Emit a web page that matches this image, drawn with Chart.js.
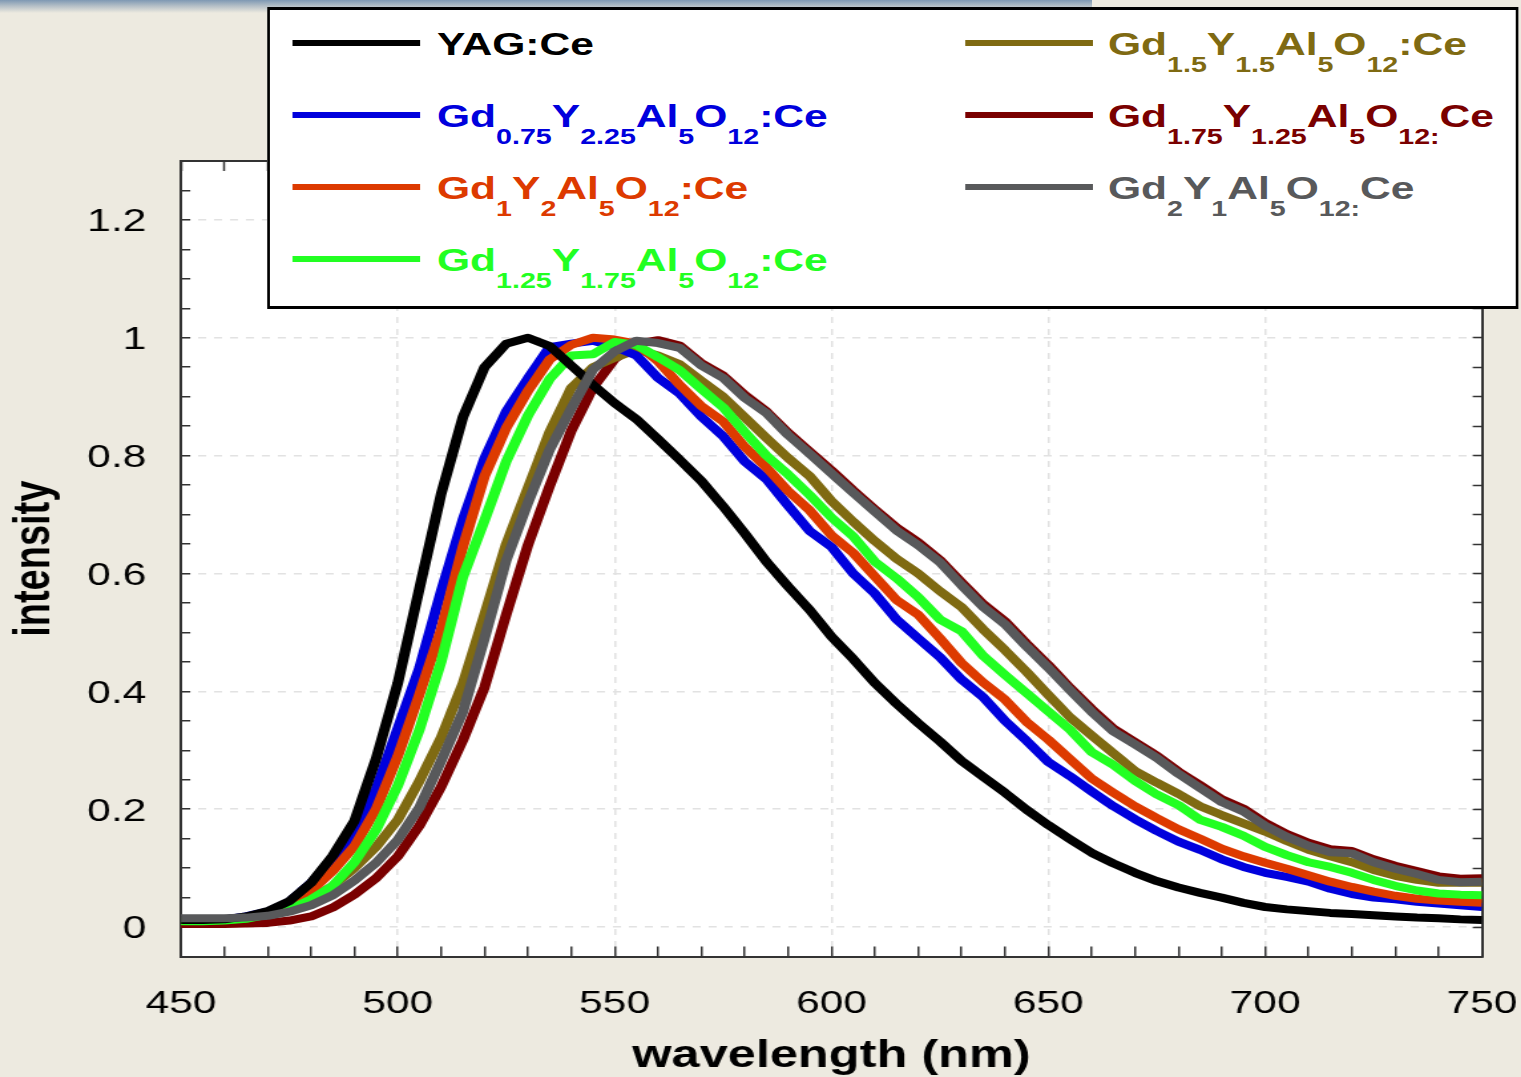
<!DOCTYPE html>
<html>
<head>
<meta charset="utf-8">
<title>Emission spectra</title>
<script src="https://cdn.jsdelivr.net/npm/chart.js@4.4.1/dist/chart.umd.min.js"></script>
<style>
  html, body { margin: 0; padding: 0; }
  body {
    width: 1521px; height: 1077px; overflow: hidden; position: relative;
    background: #edeae0;
    font-family: 'Liberation Sans', Arial, sans-serif;
  }
  #topband {
    position: absolute; left: 0; top: 0; width: 1092px; height: 13px;
    background: linear-gradient(#7e98b3, #b3bec6 45%, #edeae0);
  }
  /* the original picture is stretched ~1.33x horizontally */
  #stage {
    position: absolute; left: 0; top: 0; width: 1144px; height: 1077px;
    transform: scaleX(1.3296); transform-origin: 0 0;
  }
  #stage canvas { position: absolute; left: 0; top: 0; }
  #legendBox {
    position: absolute; left: 200.8px; top: 7px; width: 941.6px; height: 302px;
    box-sizing: border-box; background: #fff;
    border: 3px solid #000; border-left-width: 2.3px; border-right-width: 2.3px;
  }
  .lg-line { position: absolute; height: 6px; }
  .lg-text {
    position: absolute; font-weight: bold; font-size: 32px; line-height: 1;
    white-space: nowrap;
  }
  .lg-text .sub { font-size: 21.5px; position: relative; top: 17px; }
</style>
</head>
<body>
<div id="topband"></div>
<div id="stage">
  <canvas id="spectra" width="1144" height="1077"></canvas>
  <div id="legendBox"></div>
</div>

<script>
// ── datos ────────────────────────────────────────────────────────────────
const wavelengths = [450, 455, 460, 465, 470, 475, 480, 485, 490, 495,
                     500, 505, 510, 515, 520, 525, 530, 535, 540, 545,
                     550, 555, 560, 565, 570, 575, 580, 585, 590, 595,
                     600, 605, 610, 615, 620, 625, 630, 635, 640, 645,
                     650, 655, 660, 665, 670, 675, 680, 685, 690, 695,
                     700, 705, 710, 715, 720, 725, 730, 735, 740, 745, 750];

const yagCe = [0.012, 0.012, 0.013, 0.018, 0.027, 0.044, 0.075, 0.121, 0.18, 0.286,
               0.414, 0.575, 0.735, 0.865, 0.95, 0.99, 1.0, 0.986, 0.953, 0.92,
               0.889, 0.862, 0.828, 0.793, 0.757, 0.714, 0.668, 0.62, 0.578, 0.538,
               0.493, 0.455, 0.414, 0.379, 0.346, 0.315, 0.282, 0.255, 0.228, 0.199,
               0.173, 0.149, 0.126, 0.108, 0.092, 0.078, 0.067, 0.058, 0.05, 0.041,
               0.034, 0.03, 0.027, 0.024, 0.022, 0.02, 0.018, 0.016, 0.015, 0.013, 0.012];

const gd075 = [0.012, 0.012, 0.013, 0.018, 0.026, 0.043, 0.075, 0.113, 0.16, 0.234,
               0.337, 0.44, 0.57, 0.691, 0.795, 0.875, 0.931, 0.984, 0.99, 0.995,
               0.985, 0.97, 0.932, 0.905, 0.866, 0.833, 0.79, 0.76, 0.715, 0.672,
               0.645, 0.6, 0.566, 0.522, 0.49, 0.458, 0.42, 0.39, 0.35, 0.316,
               0.28, 0.256, 0.23, 0.205, 0.183, 0.163, 0.145, 0.131, 0.115, 0.102,
               0.092, 0.085, 0.077, 0.065, 0.056, 0.05, 0.047, 0.043, 0.04, 0.037, 0.034];

const gd1 = [0.011, 0.011, 0.012, 0.016, 0.022, 0.037, 0.061, 0.095, 0.137, 0.2,
             0.29, 0.395, 0.505, 0.645, 0.765, 0.847, 0.91, 0.963, 0.988, 1.0,
             0.997, 0.99, 0.96, 0.92, 0.884, 0.858, 0.815, 0.78, 0.74, 0.707,
             0.665, 0.635, 0.595, 0.555, 0.53, 0.49, 0.448, 0.415, 0.386, 0.348,
             0.318, 0.285, 0.252, 0.228, 0.205, 0.185, 0.166, 0.15, 0.133, 0.12,
             0.109, 0.099, 0.088, 0.077, 0.068, 0.06, 0.053, 0.048, 0.045, 0.043, 0.041];

const gd125 = [0.01, 0.01, 0.011, 0.014, 0.021, 0.03, 0.047, 0.07, 0.11, 0.165,
               0.24, 0.335, 0.45, 0.594, 0.69, 0.79, 0.868, 0.93, 0.97, 0.972,
               0.993, 0.988, 0.967, 0.945, 0.913, 0.882, 0.84, 0.8, 0.768, 0.733,
               0.695, 0.663, 0.62, 0.592, 0.56, 0.522, 0.502, 0.46, 0.428, 0.397,
               0.366, 0.335, 0.297, 0.275, 0.248, 0.225, 0.207, 0.182, 0.17, 0.155,
               0.136, 0.122, 0.11, 0.102, 0.092, 0.08, 0.07, 0.062, 0.057, 0.055, 0.054];

const gd15 = [0.012, 0.012, 0.013, 0.015, 0.022, 0.033, 0.047, 0.07, 0.1, 0.136,
              0.182, 0.248, 0.322, 0.413, 0.53, 0.65, 0.745, 0.84, 0.915, 0.95,
              0.966, 0.98, 0.97, 0.955, 0.927, 0.9, 0.865, 0.83, 0.796, 0.765,
              0.723, 0.688, 0.655, 0.625, 0.6, 0.57, 0.543, 0.505, 0.47, 0.433,
              0.394, 0.356, 0.325, 0.295, 0.265, 0.245, 0.226, 0.205, 0.19, 0.176,
              0.162, 0.146, 0.131, 0.12, 0.11, 0.097, 0.087, 0.08, 0.075, 0.075, 0.075];

const gd175 = [0.005, 0.005, 0.005, 0.006, 0.007, 0.011, 0.018, 0.033, 0.055, 0.083,
               0.12, 0.172, 0.238, 0.317, 0.407, 0.53, 0.648, 0.748, 0.842, 0.915,
               0.964, 0.99, 0.996, 0.987, 0.957, 0.936, 0.903, 0.875, 0.839, 0.807,
               0.775, 0.741, 0.709, 0.678, 0.653, 0.623, 0.585, 0.548, 0.519, 0.481,
               0.445, 0.406, 0.37, 0.337, 0.314, 0.291, 0.264, 0.241, 0.217, 0.201,
               0.177, 0.158, 0.143, 0.132, 0.129, 0.115, 0.104, 0.095, 0.086, 0.082, 0.083];

const gd2 = [0.015, 0.015, 0.015, 0.016, 0.019, 0.026, 0.037, 0.054, 0.079, 0.109,
             0.148, 0.203, 0.282, 0.365, 0.49, 0.622, 0.72, 0.81, 0.88, 0.946,
             0.977, 0.995, 0.991, 0.983, 0.953, 0.932, 0.898, 0.872, 0.835, 0.803,
             0.77, 0.737, 0.705, 0.673, 0.648, 0.619, 0.58, 0.543, 0.514, 0.476,
             0.44, 0.402, 0.365, 0.332, 0.31, 0.287, 0.26, 0.236, 0.212, 0.196,
             0.172, 0.153, 0.138, 0.127, 0.125, 0.11, 0.099, 0.09, 0.08, 0.076, 0.077];

// nombres con subíndices marcados como _{...}
const seriesLabels = ['YAG:Ce',
                      'Gd_{0.75}Y_{2.25}Al_{5}O_{12}:Ce',
                      'Gd_{1}Y_{2}Al_{5}O_{12}:Ce',
                      'Gd_{1.25}Y_{1.75}Al_{5}O_{12}:Ce',
                      'Gd_{1.5}Y_{1.5}Al_{5}O_{12}:Ce',
                      'Gd_{1.75}Y_{1.25}Al_{5}O_{12:}Ce',
                      'Gd_{2}Y_{1}Al_{5}O_{12:}Ce'];
const seriesValues = [yagCe, gd075, gd1, gd125, gd15, gd175, gd2];
const seriesColors = ['#000000', '#0000dd', '#dd3a00', '#22ff22', '#7f6a12', '#7a0000', '#58595b'];
const drawOrder    = [1, 4, 3, 2, 5, 6, 0];   // menor = encima

// ticks
const xTickValues = [450, 460, 470, 480, 490, 500, 510, 520, 530, 540, 550, 560, 570, 580, 590, 600,
                     610, 620, 630, 640, 650, 660, 670, 680, 690, 700, 710, 720, 730, 740, 750];
const xMajorValues = [450, 500, 550, 600, 650, 700, 750];
const xMajorLabels = ['450', '500', '550', '600', '650', '700', '750'];
const yTickValues = [0, 0.05, 0.1, 0.15, 0.2, 0.25, 0.3, 0.35, 0.4, 0.45, 0.5, 0.55, 0.6, 0.65,
                     0.7, 0.75, 0.8, 0.85, 0.9, 0.95, 1, 1.05, 1.1, 1.15, 1.2, 1.25, 1.3];
const yMajorValues = [0, 0.2, 0.4, 0.6, 0.8, 1, 1.2];
const yMajorLabels = ['0', '0.2', '0.4', '0.6', '0.8', '1', '1.2'];

// ── helpers ──────────────────────────────────────────────────────────────
function majorIndex(list, v) {
    for (var i = 0; i < list.length; i++) {
        if (Math.abs(list[i] - v) < 1e-6) return i;
    }
    return -1;
}
function labelFor(values, labels) {
    return function (v) {
        var i = majorIndex(values, v);
        return i >= 0 ? labels[i] : '';
    };
}
function gridFor(values, skipEdges) {
    return function (c) {
        if (!c.tick) return 'transparent';
        var i = majorIndex(values, c.tick.value);
        if (i < 0) return 'transparent';
        if (skipEdges && (i === 0 || i === values.length - 1)) return 'transparent';
        return '#e2e2e2';
    };
}
function toHtml(s) { return s.replace(/_\{([^}]*)\}/g, '<span class="sub">$1</span>'); }
function toPlain(s) { return s.replace(/_\{([^}]*)\}/g, '$1'); }

var FONT = "'Liberation Sans', Arial, sans-serif";
var INK = '#333333';
Chart.defaults.font.family = FONT;
Chart.defaults.color = '#000';

// fondo blanco del área de trazado
const plotBackground = {
    id: 'plotBackground',
    beforeDraw: function (chart) {
        var a = chart.chartArea, ctx = chart.ctx;
        ctx.save();
        ctx.fillStyle = '#ffffff';
        ctx.fillRect(a.left, a.top, a.right - a.left, a.bottom - a.top);
        ctx.restore();
    }
};

var datasets = seriesValues.map(function (vals, k) {
    return {
        label: toPlain(seriesLabels[k]),
        data: wavelengths.map(function (w, i) { return { x: w, y: vals[i] }; }),
        borderColor: seriesColors[k],
        backgroundColor: seriesColors[k],
        borderWidth: 8,
        borderJoinStyle: 'round',
        pointRadius: 0,
        fill: false,
        tension: 0,
        order: drawOrder[k]
    };
});

function setXTicks(s) { s.ticks = xTickValues.map(function (v) { return { value: v }; }); }
function setYTicks(s) { s.ticks = yTickValues.map(function (v) { return { value: v }; }); }

new Chart(document.getElementById('spectra'), {
    type: 'line',
    data: { datasets: datasets },
    plugins: [plotBackground],
    options: {
        responsive: false,
        animation: false,
        events: [],
        layout: { padding: { left: 0, right: 29.4, top: 161, bottom: 0 } },
        plugins: { legend: { display: false }, tooltip: { enabled: false } },
        scales: {
            x: {
                type: 'linear', position: 'bottom', min: 450, max: 750, bounds: 'data',
                afterBuildTicks: setXTicks,
                afterFit: function (s) { s.height = 120.5; s.paddingLeft = 0; s.paddingRight = 0; },
                ticks: { autoSkip: false, maxRotation: 0, padding: 38.8, color: '#000',
                         font: { size: 32 }, callback: labelFor(xMajorValues, xMajorLabels) },
                grid: { color: gridFor(xMajorValues, true), lineWidth: 1.5, tickLength: -10,
                        tickColor: INK, tickWidth: 1.5 },
                border: { display: true, color: INK, width: 2, dash: [6, 6] },
                title: { display: true, text: 'wavelength (nm)', color: '#000',
                         font: { size: 38, weight: 'bold' }, padding: { top: 0, bottom: -2 } }
            },
            y: {
                type: 'linear', position: 'left', min: -0.05, max: 1.3, bounds: 'data',
                afterBuildTicks: setYTicks,
                afterFit: function (s) { s.width = 136.1; },
                ticks: { autoSkip: false, padding: 33, labelOffset: 2.5, color: '#000',
                         font: { size: 32 }, callback: labelFor(yMajorValues, yMajorLabels) },
                grid: { color: gridFor(yMajorValues, false), lineWidth: 1.5, tickLength: -7,
                        tickColor: INK, tickWidth: 1.5 },
                border: { display: true, color: INK, width: 2, dash: [6, 6] },
                title: { display: true, text: 'intensity', color: '#000',
                         font: { size: 38, weight: 'bold' }, padding: { top: 4, bottom: 0 } }
            },
            x2: {
                type: 'linear', position: 'top', min: 450, max: 750, bounds: 'data',
                afterBuildTicks: setXTicks,
                afterFit: function (s) { s.height = 0; s.paddingLeft = 0; s.paddingRight = 0; },
                ticks: { display: false },
                grid: { drawOnChartArea: false, tickLength: -10, tickColor: INK, tickWidth: 1.5 },
                border: { display: true, color: INK, width: 2 }
            },
            y2: {
                type: 'linear', position: 'right', min: -0.05, max: 1.3, bounds: 'data',
                afterBuildTicks: setYTicks,
                afterFit: function (s) { s.width = 0; s.paddingTop = 0; s.paddingBottom = 0; },
                ticks: { display: false },
                grid: { drawOnChartArea: false, tickLength: -7, tickColor: INK, tickWidth: 1.5 },
                border: { display: true, color: INK, width: 2 }
            }
        }
    }
});

// ── leyenda (dos columnas, con subíndices) ───────────────────────────────
var legendCols = [ { line: 220.4, width: 95.5, text: 328.7 },
                   { line: 725.8, width: 96.3, text: 833.3 } ];
var legendRows = [43, 115, 187, 259];
var stage = document.getElementById('stage');

seriesLabels.forEach(function (lab, k) {
    var col = legendCols[k < 4 ? 0 : 1];
    var cy = legendRows[k < 4 ? k : k - 4];

    var ln = document.createElement('div');
    ln.className = 'lg-line';
    ln.style.cssText = 'left:' + col.line + 'px;width:' + col.width + 'px;top:' + (cy - 3) +
                       'px;background:' + seriesColors[k] + ';';
    stage.appendChild(ln);

    var tx = document.createElement('div');
    tx.className = 'lg-text';
    tx.style.cssText = 'left:' + col.text + 'px;top:' + (cy - 15) + 'px;color:' + seriesColors[k] + ';';
    tx.innerHTML = toHtml(lab);
    stage.appendChild(tx);
});
</script>
</body>
</html>
